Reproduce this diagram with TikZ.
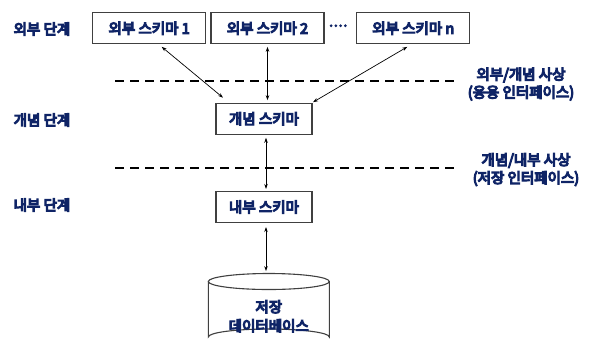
\documentclass[tikz,border=0pt]{standalone}
\usepackage{fontspec}
\setmainfont{Noto Sans CJK KR}[FakeBold=8]
\usetikzlibrary{arrows.meta}
\definecolor{navy}{HTML}{0F2466}
\definecolor{boxline}{HTML}{404040}
\begin{document}
\begin{tikzpicture}[x=1pt,y=-1pt,
  txt/.style={font=\fontsize{14.5}{18}\selectfont, text=navy, inner sep=0pt},
  schema/.style={txt, draw=boxline, line width=1.1pt, fill=white, minimum width=113pt, minimum height=31pt},
  inner/.style={schema, minimum width=96pt},
  conn/.style={line width=0.7pt, {Stealth[length=5pt,width=3.5pt]}-{Stealth[length=5pt,width=3.5pt]}},
  sep/.style={line width=1.8pt, dash pattern=on 9pt off 6pt},
  lbl/.style={txt, align=center}
]
\useasboundingbox (0,0) rectangle (602,357);

% left level labels
\node[txt] (l1) at (42,29) {외부 단계};
\node[txt] (l2) at (42,120) {개념 단계};
\node[txt] (l3) at (42,205) {내부 단계};

% external schemas
\node[schema] (b1) at (149.2,28.3) {외부 스키마 1};
\node[schema] (b2) at (267.5,28.3) {외부 스키마 2};
\node[txt, font=\fontsize{12}{14}\selectfont] (dots) at (338.5,27.5) {\kern-0.5pt·\kern-2pt·\kern-2pt·\kern-2pt·};
\node[schema] (bn) at (413.3,28.3) {외부 스키마 n};

% conceptual & internal
\node[inner] (cs) at (264,118.7) {개념 스키마};
\node[inner] (is) at (264,207) {내부 스키마};

% separators
\coordinate (d1a) at (115,81);
\coordinate (d1b) at (455,81);
\coordinate (d2a) at (115,167.7);
\coordinate (d2b) at (455,167.7);
\draw[sep] (d1a) -- (d1b);
\draw[sep] (d2a) -- (d2b);

% right labels
\node[lbl] (m1) at (521,84) {외부/개념 사상\\(응용 인터페이스)};
\node[lbl] (m2) at (526,169.5) {개념/내부 사상\\(저장 인터페이스)};

% database cylinder
\node[minimum width=121pt, minimum height=72pt] (db) at (268.8,309.3) {};
\draw[boxline, line width=1.1pt, fill=white]
  (208.3,281.5) -- (208.3,337) arc[start angle=180, end angle=360, x radius=60.5, y radius=8] -- (329.3,281.5);
\draw[boxline, line width=1.1pt, fill=white] (268.8,281.5) ellipse[x radius=60.5, y radius=8];
\node[txt, align=center, font=\fontsize{14.5}{19}\selectfont] (dbt) at ([yshift=-7pt]db.center) {저장\\데이터베이스};

% connectors
\draw[conn] ([xshift=12.5pt,yshift=-2.5pt]b1.south) -- ([xshift=-41pt,yshift=5pt]cs.north);
\draw[conn] ([yshift=-2.5pt]b2.south) -- ([yshift=2.5pt]b2.south |- cs.north);
\draw[conn] ([xshift=-6pt,yshift=-2.5pt]bn.south) -- ([xshift=0.5pt,yshift=0.5pt]cs.north east);
\draw[conn] ([xshift=2pt,yshift=-3pt]cs.south) -- ([xshift=2pt,yshift=2pt]is.north);
\draw[conn] ([xshift=2pt,yshift=-4pt]is.south) -- ([xshift=2pt,yshift=2pt]is.south |- db.north);
\end{tikzpicture}
\end{document}
